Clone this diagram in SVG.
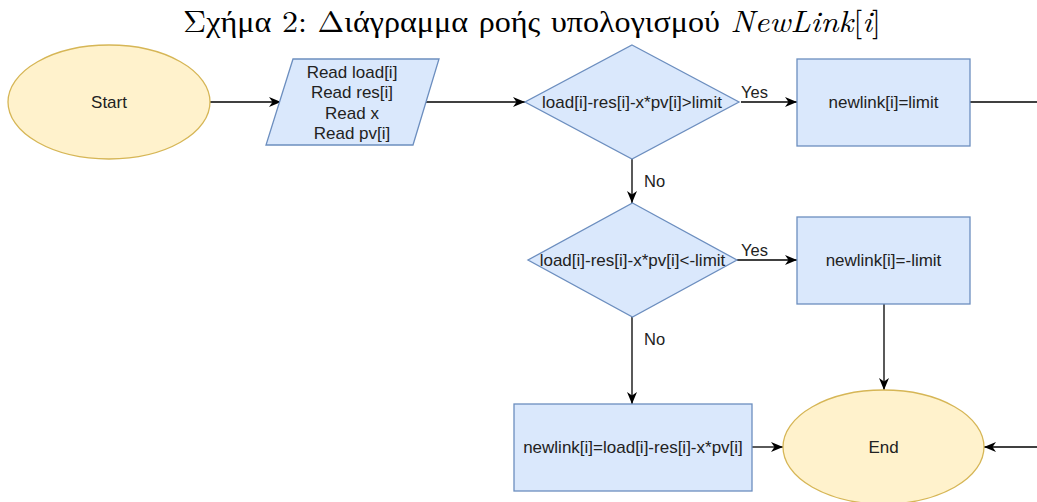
<svg xmlns="http://www.w3.org/2000/svg" width="1037" height="502" viewBox="0 0 1037 502">
<style>
.t{font-family:"Liberation Sans",Arial,sans-serif;font-size:17px;fill:#222;text-anchor:middle;dominant-baseline:central}
.lbl{font-family:"Liberation Sans",Arial,sans-serif;font-size:16.5px;fill:#222;dominant-baseline:central}
.term{fill:#fff2cc;stroke:#d6b656;stroke-width:1.3}
.proc{fill:#dae8fc;stroke:#6c8ebf;stroke-width:1.3}
.edge{fill:none;stroke:#000;stroke-width:1.3}
.arr{marker-end:url(#ah)}
.title{font-family:"Latin Modern Roman","CMU Serif","Liberation Serif","DejaVu Serif",serif;font-size:30px;fill:#000}
</style>
<defs>
<marker id="ah" markerUnits="userSpaceOnUse" markerWidth="13" markerHeight="13" refX="12" refY="6.5" orient="auto">
<path d="M0,1.5 L12,6.5 L0,11.5 L3.5,6.5 z" fill="#000"/>
</marker>
</defs>
<text class="title" x="183" y="32" textLength="698" lengthAdjust="spacingAndGlyphs">Σχήμα 2: Διάγραμμα ροής υπολογισμού <tspan font-style="italic">NewLink</tspan>[<tspan font-style="italic">i</tspan>]</text>
<g id="connectors">
<path class="edge arr" d="M210,102 L281,102"/>
<path class="edge arr" d="M426,102 L525,102"/>
<path class="edge arr" d="M741,102 L797,102"/>
<path class="edge" d="M970,102 L1037,102"/>
<path class="edge arr" d="M632,159 L632,203"/>
<path class="edge arr" d="M737,260 L797,260"/>
<path class="edge arr" d="M632,317 L632,404"/>
<path class="edge arr" d="M884,304 L884,390"/>
<path class="edge arr" d="M752,447 L783,447"/>
<path class="edge arr" d="M1037,447 L984,447"/>
<text class="lbl" x="741" y="92">Yes</text>
<text class="lbl" x="644" y="181">No</text>
<text class="lbl" x="741" y="250">Yes</text>
<text class="lbl" x="644" y="339">No</text>
</g>
<g id="start">
<ellipse class="term" cx="109" cy="102" rx="101" ry="57"/>
<text class="t" x="109" y="102">Start</text>
</g>
<g id="read">
<polygon class="proc" points="293,59 439,59 413,145 266,145"/>
<text class="t" x="352" y="72">Read load[i]</text>
<text class="t" x="352" y="92">Read res[i]</text>
<text class="t" x="352" y="113">Read x</text>
<text class="t" x="352" y="133">Read pv[i]</text>
</g>
<g id="dec1">
<polygon class="proc" points="632,45 739,102 632,159 525,102"/>
<text class="t" x="632" y="102">load[i]-res[i]-x*pv[i]&gt;limit</text>
</g>
<g id="box1">
<rect class="proc" x="797" y="59" width="173" height="87"/>
<text class="t" x="883.5" y="102">newlink[i]=limit</text>
</g>
<g id="dec2">
<polygon class="proc" points="632.5,203 737,260 632.5,317 528,260"/>
<text class="t" x="632.5" y="260">load[i]-res[i]-x*pv[i]&lt;-limit</text>
</g>
<g id="box2">
<rect class="proc" x="797" y="217" width="173" height="87"/>
<text class="t" x="883.5" y="260">newlink[i]=-limit</text>
</g>
<g id="box3">
<rect class="proc" x="514" y="404" width="238" height="87"/>
<text class="t" x="633" y="447">newlink[i]=load[i]-res[i]-x*pv[i]</text>
</g>
<g id="end">
<ellipse class="term" cx="883.5" cy="447" rx="100.5" ry="57"/>
<text class="t" x="883.5" y="447">End</text>
</g>
</svg>
